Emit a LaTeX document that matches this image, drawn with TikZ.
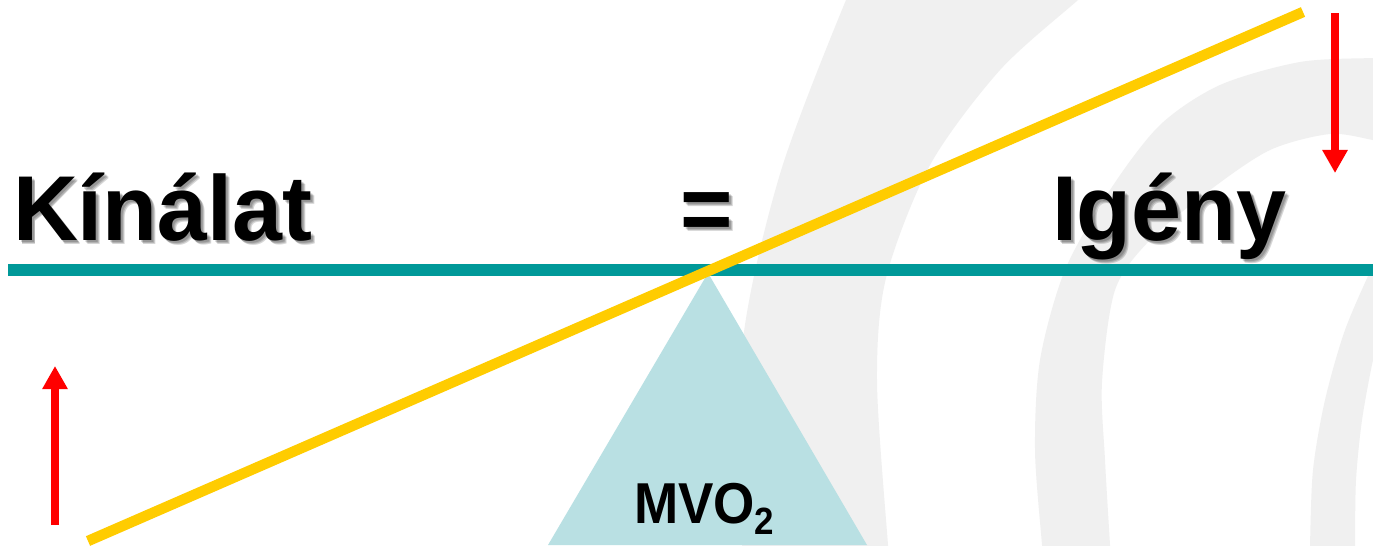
\documentclass[tikz,border=0pt]{standalone}
\usepackage{fontspec}
\setmainfont{Liberation Sans}
\usetikzlibrary{arrows.meta}
\definecolor{beamteal}{RGB}{0,153,153}
\definecolor{beamyellow}{RGB}{255,204,0}
\definecolor{fulcrumblue}{RGB}{185,224,227}
\definecolor{bandgrey}{RGB}{240,240,240}
\definecolor{arrowred}{RGB}{255,0,0}
\tikzset{
  bigtext/.style={font=\fontsize{26.2}{30}\selectfont\bfseries, inner sep=0pt, outer sep=0pt, anchor=base west, xscale=0.975},
  shadowtext/.style={text=black, text opacity=0.16},
  midtext/.style={font=\fontsize{16.4}{19}\selectfont\bfseries, inner sep=0pt, outer sep=0pt, anchor=base west, xscale=0.92},
  tealbeam/.style={draw=beamteal, line width=0.12cm},
  yellowbeam/.style={draw=beamyellow, line width=0.105cm},
  redarrow/.style={draw=arrowred, line width=0.08cm, -{Triangle[length=0.23cm,width=0.24cm]}, fill=arrowred},
  band/.style={fill=bandgrey}
}
\begin{document}
\begin{tikzpicture}[x=0.01cm, y=-0.01cm]
\useasboundingbox (0,0) rectangle (1373,545);
\fill[white] (0,0) rectangle (1373,545);
% background decorative bands
\begin{scope}
\clip (0,0) rectangle (1373,545);
\fill[band] plot[smooth] coordinates {(860,-20) (846,0) (780,174) (742,348) (742,545) (744,560)}
  -- plot[smooth] coordinates {(890,560) (888,545) (877,382) (886,278) (930,165) (1000,70) (1078,0) (1100,-20)} -- cycle;
\fill[band] plot[smooth] coordinates {(1390,58) (1373,58) (1300,62) (1220,85) (1160,125) (1110,190) (1065,270) (1040,360) (1035,450) (1042,545) (1043,560)}
  -- plot[smooth] coordinates {(1111,560) (1110,545) (1105,460) (1102,382) (1115,290) (1150,240) (1210,190) (1270,150) (1330,134) (1373,140) (1390,143)} -- cycle;
\fill[band] plot[smooth] coordinates {(1385,240) (1373,265) (1345,330) (1325,400) (1313,470) (1310,545) (1310,560)}
  -- plot[smooth] coordinates {(1355,560) (1355,545) (1356,480) (1362,420) (1373,360) (1380,340)} -- cycle;
\end{scope}
% fulcrum
\coordinate (apex) at (708,273);
\coordinate (baseL) at (548,545);
\coordinate (baseR) at (867,545);
\fill[fulcrumblue] (baseL) -- (apex) -- (baseR) -- cycle;
% beams
\coordinate (tealL) at (8,269.5);
\coordinate (tealR) at (1373,269.5);
\draw[tealbeam] (tealL) -- (tealR);
\coordinate (yelL) at (88,541);
\coordinate (yelR) at (1303,12);
\draw[yellowbeam] (yelL) -- (yelR);
% arrows
\coordinate (upS) at (55,525);
\coordinate (upE) at (55,366);
\draw[redarrow] (upS) -- (upE);
\coordinate (dnS) at (1335,13);
\coordinate (dnE) at (1335,173);
\draw[redarrow] (dnS) -- (dnE);
% text shadows
\foreach \d in {2,3,4}{
  \node[bigtext, shadowtext] (ksh\d) at (13+\d,240+\d) {Kínálat};
  \node[bigtext, shadowtext] (ish\d) at (1052+\d,240+\d) {Igény};
  \node[bigtext, shadowtext, anchor=base] (esh\d) at (707+\d,240+\d) {=};
}
% texts
\node[bigtext] (kinalat) at (13,240) {Kínálat};
\node[bigtext] (igeny) at (1052,240) {Igény};
\node[bigtext, anchor=base] (equal) at (707,240) {=};
\node[midtext] (mvo) at (634,523) {MVO\raisebox{-3.2pt}{\fontsize{10.8}{12}\selectfont 2}};
\end{tikzpicture}
\end{document}
